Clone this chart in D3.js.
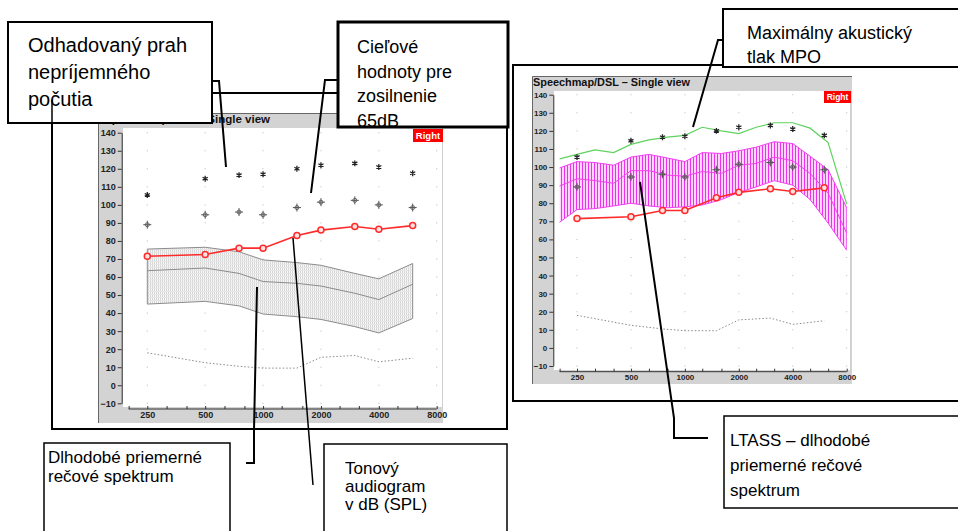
<!DOCTYPE html>
<html>
<head>
<meta charset="utf-8">
<script src="https://cdn.jsdelivr.net/npm/d3@7/dist/d3.min.js"></script>
<style>
  body { margin: 0; background: #fff; }
  svg { display: block; }
  text { font-family: "Liberation Sans", Arial, sans-serif; }
</style>
</head>
<body>
<svg id="chart" width="958" height="531"></svg>
<script>
// audiometric frequencies (Hz) and values in dB SPL
const freqs = [250, 500, 750, 1000, 1500, 2000, 3000, 4000, 6000];
const uclValues = [105.5, 114.5, 116.5, 117, 120, 122, 123, 121, 117.5];
const targetValues = [89, 94.5, 96, 94.5, 98.5, 101.5, 102.5, 100, 98.5];
const audiogramValues = [71.5, 72.5, 76, 76, 83, 86, 88, 86.5, 88.5];
const thresholdValues = [18, 12.5, 10.5, 9.5, 9.5, 15.5, 16.5, 13, 15];

// left chart: unaided speech spectrum (gray band)
const grayHigh = [75.5, 76.5, 74, 69.5, 68, 66.5, 62, 59, 67.5];
const grayMid = [63.5, 65, 62, 57.5, 56.5, 55, 51, 47.5, 56];
const grayLow = [45, 46.5, 44, 39.5, 38, 36.5, 32.5, 29, 37];

// right chart: third-octave bands, MPO and aided LTASS
const thirdOct = [200, 250, 315, 400, 500, 630, 800, 1000, 1250, 1600, 2000, 2500, 3150, 4000, 5000, 6300, 8000];
const mpoValues = [104.5, 107, 109.5, 108, 112.5, 115, 116.5, 117.5, 122, 120, 118.5, 122, 124.5, 124.5, 121.5, 113.5, 79.5];
const ltassHigh = [99.5, 103, 102.5, 101, 105.5, 107, 105, 103, 108, 107.5, 109, 111, 114, 113, 106, 98.5, 77.5];
const ltassMid = [89.5, 93.5, 92.5, 91, 98, 98, 95.5, 95, 97.5, 96.5, 101, 102, 105.5, 103.5, 96.5, 85.5, 63.5];
const ltassLow = [69.5, 76.5, 77, 78.5, 80, 78.5, 77.5, 78, 79, 82, 86, 89, 92.5, 90, 82, 69, 54];

const octaveLabels = [250, 500, 1000, 2000, 4000, 8000];
const dbTicks = [-10, 0, 10, 20, 30, 40, 50, 60, 70, 80, 90, 100, 110, 120, 130, 140];
const chartTitle = 'Speechmap/DSL \u2013 Single view';

const svg = d3.select('#chart');
const defs = svg.append('defs');

const gp = defs.append('pattern').attr('id', 'grayHatch')
  .attr('patternUnits', 'userSpaceOnUse').attr('width', 2).attr('height', 3);
gp.append('rect').attr('width', 2).attr('height', 3).attr('fill', '#f8f8f8');
gp.append('line').attr('x1', 0.5).attr('x2', 0.5).attr('y1', 0).attr('y2', 3).attr('stroke', '#d6d6d6');
gp.append('line').attr('x1', 0).attr('x2', 2).attr('y1', 0.5).attr('y2', 0.5).attr('stroke', '#e6e6e6');

const mp = defs.append('pattern').attr('id', 'pinkHatch')
  .attr('patternUnits', 'userSpaceOnUse').attr('width', 3).attr('height', 4);
mp.append('rect').attr('width', 3).attr('height', 4).attr('fill', '#ffd4ff');
mp.append('line').attr('x1', 0.5).attr('x2', 0.5).attr('y1', 0).attr('y2', 4).attr('stroke', '#f030f0');

// outer frames
svg.append('rect').attr('x', 52).attr('y', 93).attr('width', 455).attr('height', 336)
  .attr('fill', 'none').attr('stroke', '#000').attr('stroke-width', 2);
svg.append('rect').attr('x', 513).attr('y', 65).attr('width', 460).attr('height', 336)
  .attr('fill', 'none').attr('stroke', '#000').attr('stroke-width', 2);

function drawChart(c) {
  const g = svg.append('g');
  const x = d3.scaleLog().domain([250, 8000]).range(c.xr);
  const y = d3.scaleLinear().domain([-10, 140]).range(c.yr);

  g.append('rect').attr('x', c.px).attr('y', c.py).attr('width', c.pw).attr('height', c.ph)
    .attr('fill', '#d3d3d3');
  g.append('path').attr('d', `M${c.px + 0.5},${c.py + c.ph}V${c.py + 0.5}H${c.px + c.pw}`)
    .attr('fill', 'none').attr('stroke', '#666');
  g.append('text').attr('x', c.titleX).attr('y', c.titleBase)
    .attr('font-size', c.titleSize).attr('font-weight', 'bold').attr('fill', '#111')
    .attr('textLength', c.titleLen).attr('lengthAdjust', 'spacingAndGlyphs')
    .text(chartTitle);

  g.append('rect').attr('x', c.plotX).attr('y', c.plotY)
    .attr('width', c.plotR - c.plotX).attr('height', c.plotB - c.plotY)
    .attr('fill', '#fff');
  g.append('line').attr('x1', c.plotR - 0.5).attr('x2', c.plotR - 0.5)
    .attr('y1', c.plotY).attr('y2', c.plotB).attr('stroke', '#cfcfcf');

  // grid dots
  const dots = [];
  octaveLabels.forEach(f => dbTicks.forEach(d => dots.push([f, d])));
  g.selectAll('.gd').data(dots).enter().append('rect')
    .attr('x', d => x(d[0]) - 0.5).attr('y', d => y(d[1]) - 0.5)
    .attr('width', 1).attr('height', 1).attr('fill', '#b8b8b8');

  // speech band
  const band = c.band;
  const area = d3.area().x(d => x(d.f)).y0(d => y(d.lo)).y1(d => y(d.hi));
  const line = d3.line().x(d => x(d[0])).y(d => y(d[1]));
  const bandData = band.f.map((f, i) => ({ f: f, lo: band.lo[i], hi: band.hi[i] }));
  g.append('path').datum(bandData).attr('d', area).attr('fill', `url(#${band.pattern})`);
  [band.hi, band.mid, band.lo].forEach(vals => {
    g.append('path').datum(band.f.map((f, i) => [f, vals[i]])).attr('d', line)
      .attr('fill', 'none').attr('stroke', band.stroke).attr('stroke-width', 1);
  });
  if (band.closed) {
    const last = band.f.length - 1;
    g.append('path').datum([[band.f[0], band.lo[0]], [band.f[0], band.hi[0]]]).attr('d', line)
      .attr('stroke', band.stroke);
    g.append('path').datum([[band.f[last], band.lo[last]], [band.f[last], band.hi[last]]]).attr('d', line)
      .attr('stroke', band.stroke);
  }

  // normal threshold (dotted)
  g.append('path').datum(freqs.map((f, i) => [f, thresholdValues[i]])).attr('d', line)
    .attr('fill', 'none').attr('stroke', '#8a8a8a').attr('stroke-width', 1)
    .attr('stroke-dasharray', '1.5,2');

  // MPO
  if (c.mpo) {
    g.append('path').datum(thirdOct.map((f, i) => [f, mpoValues[i]])).attr('d', line)
      .attr('fill', 'none').attr('stroke', '#5fd35f').attr('stroke-width', 1.2);
  }

  // audiogram
  const aud = freqs.map((f, i) => [f, audiogramValues[i]]);
  g.append('path').datum(aud).attr('d', line)
    .attr('fill', 'none').attr('stroke', '#ff2b2b').attr('stroke-width', 1.6);
  g.selectAll('.ac').data(aud).enter().append('circle')
    .attr('cx', d => x(d[0])).attr('cy', d => y(d[1])).attr('r', 3)
    .attr('fill', '#ffe2e2').attr('stroke', '#ff2b2b').attr('stroke-width', 1.5);

  // UCL stars
  const star = d3.symbol(d3.symbolAsterisk, 24);
  g.selectAll('.st').data(freqs.map((f, i) => [f, uclValues[i]])).enter().append('path')
    .attr('d', star).attr('transform', d => `translate(${x(d[0])},${y(d[1])})`)
    .attr('fill', 'none').attr('stroke', '#222').attr('stroke-width', 1.3);

  // targets
  const tg = g.selectAll('.tg').data(freqs.map((f, i) => [f, targetValues[i]])).enter().append('g')
    .attr('transform', d => `translate(${x(d[0])},${y(d[1])})`);
  tg.append('circle').attr('r', 2).attr('fill', 'none').attr('stroke', '#666').attr('stroke-width', 1);
  tg.append('path').attr('d', 'M-4,0H4M0,-4V4').attr('stroke', '#555').attr('stroke-width', 1);

  // axes
  const ya = g.append('g').attr('transform', `translate(${c.axisX},0)`)
    .call(d3.axisLeft(y).tickValues(dbTicks).tickSize(4).tickSizeOuter(0).tickPadding(2).tickFormat(d3.format('d')));
  const xa = g.append('g').attr('transform', `translate(0,${c.axisY})`)
    .call(d3.axisBottom(x).tickValues(thirdOct).tickSize(-3).tickSizeOuter(0).tickPadding(3)
      .tickFormat(d => octaveLabels.includes(d) ? d : ''));
  xa.select('.domain').remove();
  xa.append('line').attr('x1', x(thirdOct[0])).attr('x2', x(8000)).attr('stroke', '#333');
  [ya, xa].forEach(a => {
    a.selectAll('.tick line').attr('stroke', '#333');
    a.selectAll('text').attr('font-size', c.font).attr('font-weight', 'bold').attr('fill', '#222')
      .attr('font-family', '"Liberation Sans", Arial, sans-serif');
  });
  ya.select('.domain').attr('stroke', '#333');

  // ear label
  g.append('rect').attr('x', c.ear[0]).attr('y', c.ear[1]).attr('width', c.ear[2]).attr('height', c.ear[3])
    .attr('fill', '#ff0000');
  g.append('text').attr('x', c.ear[0] + c.ear[2] / 2).attr('y', c.ear[1] + c.ear[3] - 3)
    .attr('text-anchor', 'middle').attr('font-size', c.font + 0.5).attr('font-weight', 'bold')
    .attr('fill', '#fff').text('Right');
}

drawChart({
  px: 98, py: 113, pw: 345, ph: 310,
  plotX: 123, plotY: 128, plotR: 443, plotB: 407,
  xr: [147.3, 436.7], yr: [403.3, 132.7], axisX: 121.7, axisY: 409,
  titleX: 104, titleBase: 123, titleSize: 10.5, titleLen: 166, font: 9,
  ear: [413, 129, 30, 13],
  band: { f: freqs, hi: grayHigh, mid: grayMid, lo: grayLow, pattern: 'grayHatch', stroke: '#8c8c8c', closed: true }
});
drawChart({
  px: 532, py: 76, pw: 320, ph: 308,
  plotX: 554, plotY: 91, plotR: 851, plotB: 370,
  xr: [577, 846.7], yr: [366, 94.7], axisX: 553.3, axisY: 371.7,
  titleX: 533, titleBase: 86, titleSize: 10, titleLen: 157, font: 8,
  ear: [824, 91, 27, 12], mpo: true,
  band: { f: thirdOct, hi: ltassHigh, mid: ltassMid, lo: ltassLow, pattern: 'pinkHatch', stroke: '#f040f0', closed: false }
});

// leader lines
const leaders = [
  { d: 'M212,81H219L226,167', w: 2 },
  { d: 'M338,80H325L311,193', w: 2 },
  { d: 'M723,40H718L693,127', w: 2 },
  { d: 'M246,463H254V430L257,287', w: 2 },
  { d: 'M293,238L313,485', w: 1.5 },
  { d: 'M708,438H674V418L640,182', w: 2 }
];
svg.selectAll('.ld').data(leaders).enter().append('path')
  .attr('d', d => d.d).attr('fill', 'none').attr('stroke', '#000').attr('stroke-width', d => d.w);

// callout boxes
const boxes = [
  { x: 8, y: 22, w: 204, h: 101, sw: 2, size: 20, tx: 28, lines: ['Odhadovaný prah', 'nepríjemného', 'počutia'], base: [52, 79, 106] },
  { x: 338, y: 22, w: 170, h: 105, sw: 3, size: 18, tx: 357, lines: ['Cieľové', 'hodnoty pre', 'zosilnenie', '65dB'], base: [53, 78, 102, 127] },
  { x: 723, y: 9, w: 250, h: 58, sw: 2, size: 18, tx: 747, lines: ['Maximálny akustický', 'tlak MPO'], base: [39, 63] },
  { x: 44, y: 443, w: 186, h: 100, sw: 1.5, size: 17, tx: 48, lines: ['Dlhodobé priemerné', 'rečové spektrum'], base: [463, 482] },
  { x: 324, y: 444, w: 183, h: 100, sw: 1.5, size: 17, tx: 345, lines: ['Tonový', 'audiogram', 'v dB (SPL)'], base: [474, 492, 510] },
  { x: 724, y: 416, w: 250, h: 92, sw: 1.5, size: 17, tx: 730, lines: ['LTASS \u2013 dlhodobé', 'priemerné rečové', 'spektrum'], base: [446, 471, 496] }
];
boxes.forEach(b => {
  svg.append('rect').attr('x', b.x).attr('y', b.y).attr('width', b.w).attr('height', b.h)
    .attr('fill', '#fff').attr('stroke', '#000').attr('stroke-width', b.sw);
  b.lines.forEach((t, i) => {
    svg.append('text').attr('x', b.tx).attr('y', b.base[i]).attr('font-size', b.size)
      .attr('fill', '#000').text(t);
  });
});
// frame edge that shows through the first box
svg.append('line').attr('x1', 52).attr('x2', 52).attr('y1', 100).attr('y2', 123)
  .attr('stroke', '#000').attr('stroke-width', 1.5);
</script>
</body>
</html>
